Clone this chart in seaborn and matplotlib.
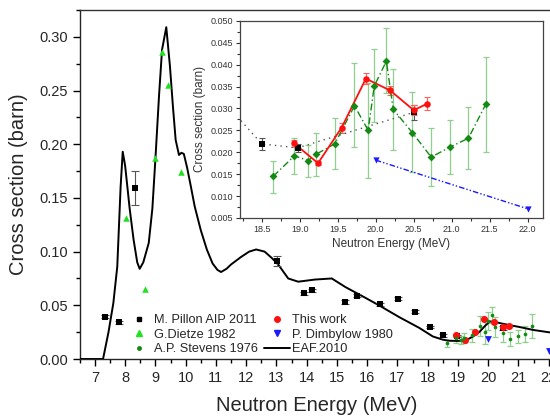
import numpy as np
import pandas as pd
import matplotlib
matplotlib.use("Agg")
import matplotlib.pyplot as plt
from matplotlib.ticker import MultipleLocator
from matplotlib.lines import Line2D
import seaborn as sns

# ---------------- data ----------------
eaf_E = [6.5, 7.27, 7.45, 7.61, 7.74, 7.85, 7.92, 8.0, 8.15, 8.28, 8.40, 8.48, 8.6, 8.78, 8.9,
         9.0, 9.12, 9.22, 9.36, 9.48, 9.58, 9.67, 9.78, 9.86, 9.94, 10.05, 10.17, 10.3, 10.5,
         10.7, 10.89, 11.05, 11.17, 11.35, 11.5, 11.83, 12.1, 12.33, 12.61, 12.85, 13.06,
         13.39, 13.72, 14.28, 14.83, 15.28, 15.94, 16.39, 17.06, 17.72, 18.17, 18.5, 18.72,
         19.0, 19.28, 19.5, 19.72, 19.9, 20.06, 20.3, 20.61, 21.0, 21.5, 22.1, 22.3]
eaf_xs = [0.0, 0.0, 0.025, 0.052, 0.086, 0.160, 0.193, 0.180, 0.140, 0.111, 0.090, 0.084, 0.090,
          0.108, 0.140, 0.186, 0.245, 0.288, 0.309, 0.273, 0.235, 0.204, 0.190, 0.192, 0.191,
          0.178, 0.161, 0.142, 0.120, 0.102, 0.089, 0.083, 0.081, 0.084, 0.088, 0.095, 0.100,
          0.102, 0.100, 0.094, 0.088, 0.075, 0.072, 0.074, 0.075, 0.067, 0.057, 0.050, 0.039,
          0.029, 0.021, 0.018, 0.017, 0.0168, 0.0177, 0.021, 0.0255, 0.031, 0.035, 0.034,
          0.032, 0.030, 0.027, 0.0245, 0.024]

pillon_E = [7.33, 7.81, 8.31, 13.03, 13.91, 14.17, 15.26, 15.67, 16.41, 17.03, 17.58, 18.08,
            18.5, 18.97, 20.5]
pillon_xs = [0.0395, 0.034, 0.159, 0.091, 0.061, 0.064, 0.053, 0.059, 0.051, 0.056, 0.044,
             0.030, 0.0219, 0.0210, 0.0291]
pillon_err = [0.0012, 0.0012, 0.016, 0.0045, 0.0015, 0.0015, 0.0015, 0.0015, 0.0015, 0.0015,
              0.0015, 0.0012, 0.0013, 0.0009, 0.0017]

dietze_E = [8.02, 8.67, 9.0, 9.23, 9.42, 9.86]
dietze_xs = [0.131, 0.065, 0.187, 0.286, 0.255, 0.174]

thiswork_E = [18.92, 19.24, 19.55, 19.87, 20.19, 20.5, 20.68]
thiswork_xs = [0.0221, 0.0175, 0.0256, 0.0368, 0.0341, 0.0296, 0.0311]
thiswork_err = [0.0008, 0.0005, 0.0011, 0.0013, 0.0010, 0.0012, 0.0015]

stevens_E = [18.65, 18.93, 19.11, 19.21, 19.46, 19.72, 19.90, 19.98, 20.14, 20.23, 20.48,
             20.73, 20.98, 21.22, 21.45]
stevens_xs = [0.0145, 0.0192, 0.0181, 0.0195, 0.0219, 0.0306, 0.0250, 0.0351, 0.0408, 0.0298,
              0.0245, 0.0189, 0.0212, 0.0232, 0.0310]
stevens_lo = [0.0108, 0.0151, 0.0143, 0.0146, 0.0162, 0.0211, 0.0141, 0.0268, 0.0335, 0.0205,
              0.0156, 0.0124, 0.0151, 0.0162, 0.0200]
stevens_hi = [0.0181, 0.0232, 0.0217, 0.0245, 0.0278, 0.0403, 0.0358, 0.0435, 0.0483, 0.0389,
              0.0337, 0.0256, 0.0274, 0.0303, 0.0418]

dimby_E = [20.0, 22.0]
dimby_xs = [0.0182, 0.0071]

main_xticks = list(range(7, 23))
main_yticks = [0.00, 0.05, 0.10, 0.15, 0.20, 0.25, 0.30]
inset_xticks = [18.5, 19.0, 19.5, 20.0, 20.5, 21.0, 21.5, 22.0]
inset_yticks = [0.005, 0.010, 0.015, 0.020, 0.025, 0.030, 0.035, 0.040, 0.045, 0.050]

# ---------------- style ----------------
sns.set_style("ticks")
plt.rcParams['font.family'] = ['Liberation Sans', 'DejaVu Sans']
plt.rcParams['axes.linewidth'] = 1.0

C_DIETZE = '#22e022'
C_STEV = '#138a13'
C_STEV_ERR = '#8fcf8f'
C_RED = '#ff1010'
C_BLUE = '#1a1aff'

fig = plt.figure(figsize=(5.5, 4.16), dpi=100)
ax = fig.add_axes([0.145, 0.137, 0.862, 0.839])

eaf = pd.DataFrame({'E': eaf_E, 'xs': eaf_xs})
sns.lineplot(data=eaf, x='E', y='xs', ax=ax, color='black', lw=1.4, sort=False, zorder=3)

ax.errorbar(stevens_E, stevens_xs,
            yerr=[np.array(stevens_xs) - np.array(stevens_lo), np.array(stevens_hi) - np.array(stevens_xs)],
            fmt='none', ecolor=C_STEV_ERR, elinewidth=0.9, capsize=2.2, capthick=0.9, zorder=2)
ax.errorbar(pillon_E, pillon_xs, yerr=pillon_err, fmt='none', ecolor='#555555',
            elinewidth=0.8, capsize=3, capthick=0.8, zorder=4)

sns.scatterplot(x=pillon_E, y=pillon_xs, ax=ax, marker='s', color='black', s=18, linewidth=0, zorder=5)
sns.scatterplot(x=dietze_E, y=dietze_xs, ax=ax, marker='^', color=C_DIETZE, s=22, linewidth=0, zorder=5)
sns.scatterplot(x=thiswork_E, y=thiswork_xs, ax=ax, marker='o', color=C_RED, s=26, linewidth=0, zorder=5)
sns.scatterplot(x=stevens_E, y=stevens_xs, ax=ax, marker='o', color=C_STEV, s=7, linewidth=0, zorder=5)
sns.scatterplot(x=dimby_E, y=dimby_xs, ax=ax, marker='v', color=C_BLUE, s=24, linewidth=0, zorder=5)

ax.set_xlim(6.5, 22.17)
ax.set_ylim(0, 0.325)
ax.set_xticks(main_xticks)
ax.set_yticks(main_yticks)
ax.set_yticklabels([f"{v:.2f}" for v in main_yticks])
ax.xaxis.set_minor_locator(MultipleLocator(0.5))
ax.yaxis.set_minor_locator(MultipleLocator(0.025))
ax.tick_params(axis='both', which='major', direction='out', length=5, width=1, labelsize=10.5, color='black')
ax.tick_params(axis='both', which='minor', direction='out', length=3, width=1, color='black')
ax.set_xlabel('Neutron Energy (MeV)', fontsize=14.5, labelpad=8)
ax.set_ylabel('Cross section (barn)', fontsize=14.5, labelpad=8)
ax.spines['top'].set_visible(True)
ax.spines['right'].set_visible(True)
ax.spines['top'].set_color('#333333')

handles = [
    Line2D([], [], marker='s', color='black', ls='none', ms=3.5),
    Line2D([], [], marker='^', color=C_DIETZE, ls='none', ms=4.5),
    Line2D([], [], marker='o', color=C_STEV, ls='none', ms=2.5),
    Line2D([], [], marker='o', color=C_RED, ls='none', ms=4),
    Line2D([], [], marker='v', color=C_BLUE, ls='none', ms=4.5),
    Line2D([], [], color='black', lw=1.4),
]
labels = ['M. Pillon AIP 2011', 'G.Dietze 1982', 'A.P. Stevens 1976',
          'This work', 'P. Dimbylow 1980', 'EAF.2010']
ax.legend(handles, labels, ncol=2, loc='upper left', bbox_to_anchor=(0.097, 0.128),
          frameon=False, fontsize=9.2, handlelength=2.0, handletextpad=0.2,
          columnspacing=0.5, labelspacing=0.2, borderaxespad=0, borderpad=0)

# ---------------- inset ----------------
ins = fig.add_axes([0.436, 0.476, 0.551, 0.474])
ins.errorbar(stevens_E, stevens_xs,
             yerr=[np.array(stevens_xs) - np.array(stevens_lo), np.array(stevens_hi) - np.array(stevens_xs)],
             fmt='none', ecolor=C_STEV_ERR, elinewidth=0.9, capsize=2.5, capthick=0.9, zorder=2)
ins.errorbar(pillon_E, pillon_xs, yerr=pillon_err, fmt='none', ecolor='#555555',
             elinewidth=0.8, capsize=2.5, capthick=0.8, zorder=3)
ins.errorbar(thiswork_E, thiswork_xs, yerr=thiswork_err, fmt='none', ecolor='#ff6060',
             elinewidth=0.8, capsize=2.5, capthick=0.8, zorder=3)

sns.lineplot(x=pillon_E, y=pillon_xs, ax=ins, color='#555555', lw=1.0, ls=(0, (1, 3)), sort=False, zorder=3)
sns.lineplot(x=stevens_E, y=stevens_xs, ax=ins, color=C_STEV, lw=1.0, ls=(0, (5, 2, 1, 2)), sort=False, zorder=3)
sns.lineplot(x=thiswork_E, y=thiswork_xs, ax=ins, color=C_RED, lw=1.3, sort=False, zorder=4)
sns.lineplot(x=dimby_E, y=dimby_xs, ax=ins, color=C_BLUE, lw=1.0, ls=(0, (4, 1.5, 1, 1.5, 1, 1.5)), sort=False, zorder=4)

sns.scatterplot(x=pillon_E, y=pillon_xs, ax=ins, marker='s', color='black', s=16, linewidth=0, zorder=5)
sns.scatterplot(x=stevens_E, y=stevens_xs, ax=ins, marker='D', color=C_STEV, s=16, linewidth=0, zorder=5)
sns.scatterplot(x=thiswork_E, y=thiswork_xs, ax=ins, marker='o', color=C_RED, s=22, linewidth=0, zorder=6)
sns.scatterplot(x=dimby_E, y=dimby_xs, ax=ins, marker='v', color=C_BLUE, s=20, linewidth=0, zorder=6)

ins.set_xlim(18.21, 22.2)
ins.set_ylim(0.005, 0.050)
ins.set_xticks(inset_xticks)
ins.set_yticks(inset_yticks)
ins.set_xticklabels([f"{v:.1f}" for v in inset_xticks])
ins.set_yticklabels([f"{v:.3f}" for v in inset_yticks])
ins.xaxis.set_minor_locator(MultipleLocator(0.25))
ins.yaxis.set_minor_locator(MultipleLocator(0.0025))
ins.tick_params(axis='both', which='major', direction='out', length=3, width=0.8, labelsize=6.5,
                color='#333333', labelcolor='#333333', pad=2)
ins.tick_params(axis='both', which='minor', direction='out', length=2, width=0.8, color='#333333')
ins.set_xlabel('Neutron Energy (MeV)', fontsize=8.5, color='#333333', labelpad=3)
ins.set_ylabel('Cross section (barn)', fontsize=8.5, color='#333333', labelpad=3)
for s in ins.spines.values():
    s.set_linewidth(0.9)
    s.set_color('#444444')

fig.savefig('out.png', dpi=100)
